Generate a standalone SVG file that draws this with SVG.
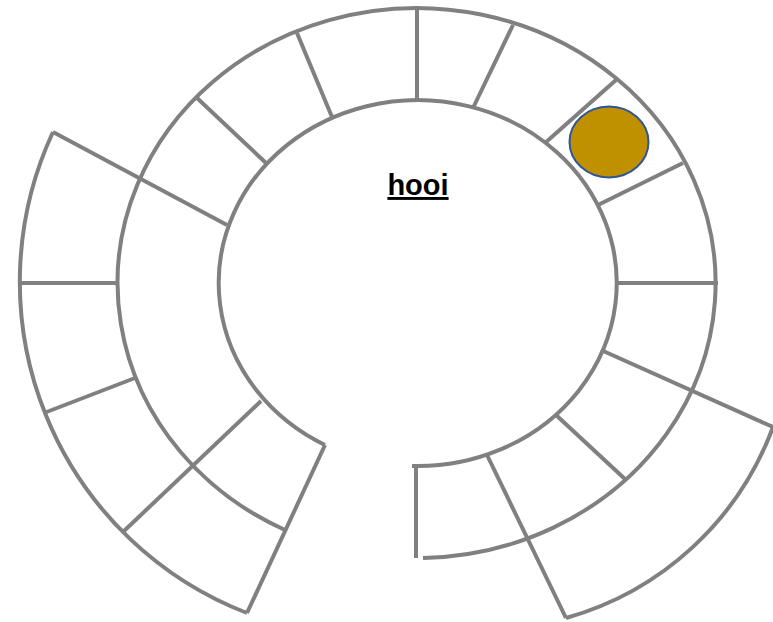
<svg xmlns="http://www.w3.org/2000/svg" width="773" height="622" viewBox="0 0 773 622">
<style>
.ln{fill:none;stroke:#808080;stroke-width:4;stroke-linecap:butt;stroke-linejoin:miter}
.lbl{font-family:"Liberation Sans",Arial,sans-serif;font-weight:bold;font-size:29px;fill:#000;text-decoration:underline}
</style>
<rect width="773" height="622" fill="#fff"/>
<g id="rings">
  <path class="ln" d="M 412 466 A 199 183 0 1 0 325 445"/>
  <path class="ln" d="M 423 558 A 299 275 0 1 0 285 530"/>
  <path class="ln" d="M 53 132 A 355 355 0 0 0 247 613"/>
  <path class="ln" d="M 773 427 A 310 310 0 0 1 566 618"/>
</g>
<g id="dividers">
  <line class="ln" x1="197" y1="98" x2="266" y2="163"/>
  <line class="ln" x1="297" y1="33" x2="332" y2="117"/>
  <line class="ln" x1="417" y1="7" x2="417" y2="100"/>
  <line class="ln" x1="513" y1="25" x2="473" y2="108"/>
  <line class="ln" x1="616" y1="80" x2="545" y2="143"/>
  <line class="ln" x1="683" y1="163" x2="598" y2="205"/>
  <line class="ln" x1="615" y1="283" x2="718" y2="283"/>
  <line class="ln" x1="601" y1="350" x2="773" y2="427"/>
  <line class="ln" x1="556" y1="415" x2="626" y2="480"/>
  <line class="ln" x1="487" y1="455" x2="566" y2="618"/>
  <line class="ln" x1="416" y1="465" x2="416" y2="558"/>
  <line class="ln" x1="53" y1="132" x2="227" y2="225"/>
  <line class="ln" x1="20" y1="283" x2="118" y2="283"/>
  <line class="ln" x1="44" y1="413" x2="135" y2="378"/>
  <line class="ln" x1="124" y1="531" x2="261" y2="401"/>
  <line class="ln" x1="325" y1="445" x2="247" y2="613"/>
</g>
<g id="token">
  <ellipse cx="609" cy="142" rx="39.5" ry="35.5" fill="#BF9000" stroke="#2F5597" stroke-width="2"/>
</g>
<g id="label">
  <text class="lbl" x="418" y="195" text-anchor="middle">hooi</text>
</g>
</svg>
